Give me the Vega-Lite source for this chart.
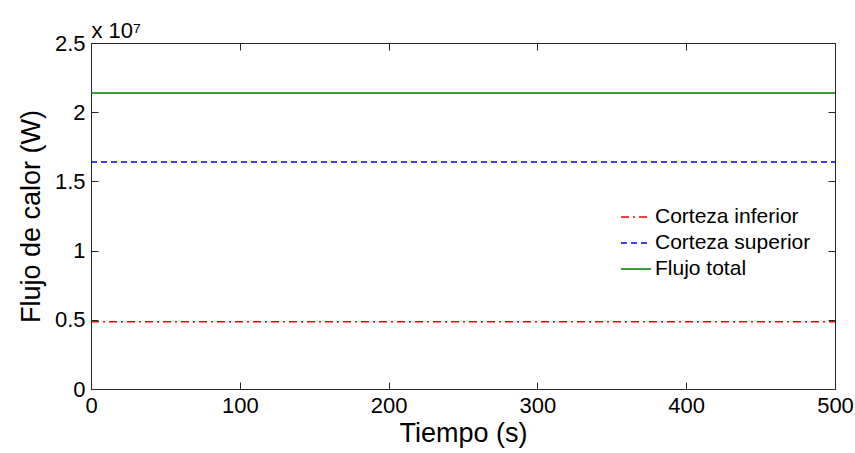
{
  "$schema": "https://vega.github.io/schema/vega-lite/v6.json",
  "width": 744,
  "height": 346,
  "autosize": {"type": "none"},
  "padding": {"left": 91, "top": 43, "right": 20, "bottom": 64},
  "background": "white",
  "config": {
    "view": {"stroke": "#262626", "strokeWidth": 1},
    "axis": {"grid": false, "labelFont": "Liberation Sans", "labelFontSize": 22, "labelColor": "black", "labelFlush": false, "tickColor": "#262626", "domainColor": "#262626", "tickSize": -7, "labelPadding": 13, "titleFont": "Liberation Sans", "titleColor": "black", "titleFontWeight": "normal"},
    "legend": {"labelFont": "Liberation Sans", "labelFontSize": 21, "labelColor": "black"}
  },
  "data": {"values": [
    {"t": 0, "q": 4860000, "serie": "Corteza inferior"},
    {"t": 500, "q": 4860000, "serie": "Corteza inferior"},
    {"t": 0, "q": 16400000, "serie": "Corteza superior"},
    {"t": 500, "q": 16400000, "serie": "Corteza superior"},
    {"t": 0, "q": 21390000, "serie": "Flujo total"},
    {"t": 500, "q": 21390000, "serie": "Flujo total"}
  ]},
  "layer": [
    {
      "mark": {"type": "line", "strokeWidth": 1.5},
      "encoding": {
        "x": {"field": "t", "type": "quantitative", "scale": {"domain": [0, 500], "nice": false},
              "axis": {"orient": "bottom", "values": [0, 100, 200, 300, 400, 500], "title": "Tiempo (s)", "titleFontSize": 27, "titlePadding": 4}},
        "y": {"field": "q", "type": "quantitative", "scale": {"domain": [0, 25000000], "nice": false},
              "axis": {"orient": "left", "values": [0, 5000000, 10000000, 15000000, 20000000, 25000000], "labelExpr": "format(datum.value/1e7, '~g')", "title": "Flujo de calor (W)", "titleFontSize": 27, "titlePadding": 9}},
        "color": {"field": "serie", "type": "nominal",
                  "scale": {"domain": ["Corteza inferior", "Corteza superior", "Flujo total"], "range": ["#ff0000", "#0000ff", "#008000"]},
                  "legend": {"title": null, "orient": "none", "legendX": 529, "legendY": 158, "symbolType": "stroke", "symbolSize": 900, "symbolStrokeWidth": 1.5, "rowPadding": -3, "labelOffset": 3}},
        "strokeDash": {"field": "serie", "type": "nominal",
                  "scale": {"domain": ["Corteza inferior", "Corteza superior", "Flujo total"], "range": [[8, 4, 2, 4], [6, 4], [1, 0]]},
                  "legend": {"title": null, "orient": "none", "legendX": 529, "legendY": 158, "symbolType": "stroke", "symbolSize": 900, "symbolStrokeWidth": 1.5, "rowPadding": -3, "labelOffset": 3}}
      }
    },
    {
      "mark": {"type": "line", "opacity": 0},
      "encoding": {
        "x": {"field": "t", "type": "quantitative", "axis": {"orient": "top", "values": [0, 100, 200, 300, 400, 500], "labels": false, "domain": false, "title": "x 10⁷", "titleFontSize": 22, "titleAnchor": "start", "titleAlign": "left", "titleBaseline": "alphabetic", "titleX": 0, "titleY": -6}},
        "y": {"field": "q", "type": "quantitative", "axis": {"orient": "right", "values": [0, 5000000, 10000000, 15000000, 20000000, 25000000], "labels": false, "title": null, "domain": false}},
        "detail": {"field": "serie"}
      }
    }
  ],
  "resolve": {"axis": {"x": "independent", "y": "independent"}}
}
